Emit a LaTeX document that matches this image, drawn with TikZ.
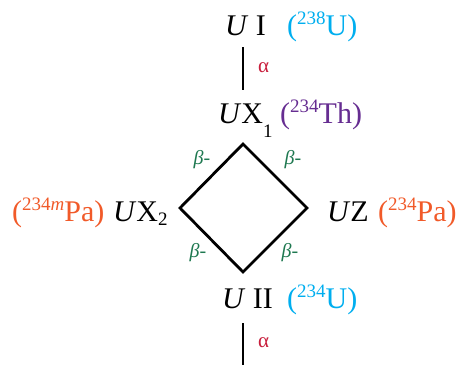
\documentclass[tikz,border=0pt]{standalone}
\usepackage{fontspec}
\setmainfont{Liberation Serif}
\definecolor{isocyan}{RGB}{0,174,239}
\definecolor{isopurple}{RGB}{102,45,145}
\definecolor{isoorange}{RGB}{241,90,41}
\definecolor{alphared}{RGB}{200,30,60}
\definecolor{betagreen}{RGB}{30,120,80}
\newcommand{\supnum}[1]{\raisebox{11pt}{\fontsize{19}{21}\selectfont #1}}
\newcommand{\subnum}[2]{\raisebox{#1}{\fontsize{19}{21}\selectfont #2}}
\begin{document}
\begin{tikzpicture}[x=1pt,y=-1pt,
  lbl/.style={anchor=base west,inner sep=0pt,font=\fontsize{30}{36}\selectfont},
  alab/.style={anchor=west,inner sep=0pt,text=alphared,font=\fontsize{21}{24}\selectfont},
  blab/.style={anchor=center,inner sep=0pt,text=betagreen,font=\fontsize{20}{22}\selectfont\itshape},
  link/.style={line width=2.8pt}]
\useasboundingbox (0,0) rectangle (457,365);
% labels
\node[lbl] (ui) at (225,35) {\textit{U} I};
\node[lbl,text=isocyan] (uiiso) at (287,35) {(\supnum{238}U)};
\node[lbl] (ux1) at (218,123) {\textit{U}X\subnum{-14pt}{1}};
\node[lbl,text=isopurple] (ux1iso) at (280,123) {(\supnum{234}Th)};
\node[lbl] (ux2) at (113,221) {\textit{U}X\subnum{-4pt}{2}};
\node[lbl,text=isoorange] (ux2iso) at (12,221) {(\supnum{234\textit{m}}Pa)};
\node[lbl] (uz) at (327,221) {\textit{U}Z};
\node[lbl,text=isoorange] (uziso) at (378,221) {(\supnum{234}Pa)};
\node[lbl] (uii) at (222,308) {\textit{U} II};
\node[lbl,text=isocyan] (uiiiso) at (287,308) {(\supnum{234}U)};
% connector points
\coordinate (a1) at (243,47);
\coordinate (a2) at (243,90);
\coordinate (dt) at (243,144);
\coordinate (dl) at (180,208);
\coordinate (dr) at (307,208);
\coordinate (db) at (243,272);
\coordinate (b1) at (243,323);
\coordinate (b2) at (243,365);
\draw[link] (a1) -- (a2);
\draw[link,line join=miter] (dt) -- (dr) -- (db) -- (dl) -- cycle;
\draw[link] (b1) -- (b2);
% decay labels
\node[alab] (al1) at (258,68) {α};
\node[alab] (al2) at (258,343) {α};
\node[blab] (bt1) at (202,160) {β-};
\node[blab] (bt2) at (293,160) {β-};
\node[blab] (bb1) at (198,253) {β-};
\node[blab] (bb2) at (290,253) {β-};
\end{tikzpicture}
\end{document}
